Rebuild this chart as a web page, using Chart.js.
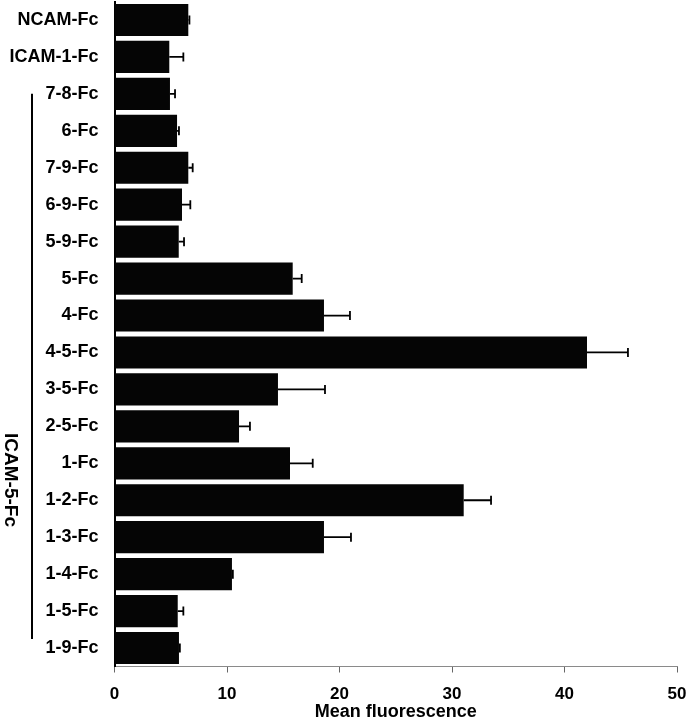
<!DOCTYPE html>
<html>
<head>
<meta charset="utf-8">
<script src="https://cdn.jsdelivr.net/npm/chart.js@4"></script>
<style>
  html, body { margin: 0; padding: 0; background: #fff; }
</style>
</head>
<body>
<canvas id="chart" width="688" height="719"></canvas>
<script>
// Fc constructs, top to bottom
const constructs = [
  'NCAM-Fc', 'ICAM-1-Fc', '7-8-Fc', '6-Fc', '7-9-Fc', '6-9-Fc', '5-9-Fc', '5-Fc', '4-Fc',
  '4-5-Fc', '3-5-Fc', '2-5-Fc', '1-Fc', '1-2-Fc', '1-3-Fc', '1-4-Fc', '1-5-Fc', '1-9-Fc'
]
const meanFluorescence = [
  6.56, 4.87, 4.93, 5.56, 6.56, 6.0, 5.71, 15.84, 18.62,
  42.0, 14.53, 11.07, 15.6, 31.04, 18.62, 10.44, 5.62, 5.73
]
// upper error (one-sided)
const errors = [
  0.1, 1.25, 0.45, 0.17, 0.39, 0.74, 0.47, 0.8, 2.31,
  3.64, 4.18, 0.97, 2.02, 2.43, 2.4, 0.08, 0.5, 0.08
]
const xTicks = [0, 10, 20, 30, 40, 50]
const groupLabel = 'ICAM-5-Fc'
const groupFirst = '7-8-Fc'
const groupLast = '1-9-Fc'

const FONT = '"Liberation Sans", Arial, Helvetica, sans-serif'

// error bars drawn against the x scale
const errorBars = {
  id: 'errorBars',
  afterDatasetsDraw(chart) {
    const { ctx } = chart
    const x = chart.scales.x
    const meta = chart.getDatasetMeta(0)
    ctx.save()
    ctx.strokeStyle = '#000'
    ctx.lineWidth = 1.8
    meta.data.forEach((bar, i) => {
      const err = errors[i]
      if (!err) return
      const x0 = x.getPixelForValue(meanFluorescence[i])
      const x1 = x.getPixelForValue(meanFluorescence[i] + err)
      ctx.beginPath()
      ctx.moveTo(x0, bar.y)
      ctx.lineTo(x1, bar.y)
      ctx.moveTo(x1, bar.y - 4.5)
      ctx.lineTo(x1, bar.y + 4.5)
      ctx.stroke()
    })
    ctx.restore()
  }
}

// bracket + rotated group label on the left
const groupBracket = {
  id: 'groupBracket',
  afterDraw(chart) {
    const { ctx } = chart
    const y = chart.scales.y
    const top = y.getPixelForValue(constructs.indexOf(groupFirst))
    const bottom = y.getPixelForValue(constructs.indexOf(groupLast)) - 9
    ctx.save()
    ctx.strokeStyle = '#000'
    ctx.lineWidth = 2
    ctx.beginPath()
    ctx.moveTo(32, top)
    ctx.lineTo(32, bottom)
    ctx.stroke()
    ctx.translate(10, 480)
    ctx.rotate(Math.PI / 2)
    ctx.fillStyle = '#000'
    ctx.font = 'bold 19px ' + FONT
    ctx.textAlign = 'center'
    ctx.textBaseline = 'middle'
    ctx.fillText(groupLabel, 0, 0)
    ctx.restore()
  }
}

new Chart(document.getElementById('chart'), {
  type: 'bar',
  data: {
    labels: constructs,
    datasets: [{
      data: meanFluorescence,
      backgroundColor: '#050505',
      borderWidth: 0,
      barPercentage: 0.87,
      categoryPercentage: 1
    }]
  },
  options: {
    indexAxis: 'y',
    responsive: false,
    animation: false,
    layout: { padding: { top: 1.5, right: 11, bottom: 0, left: 0 } },
    plugins: {
      legend: { display: false },
      tooltip: { enabled: false }
    },
    scales: {
      x: {
        min: 0,
        max: 50,
        afterBuildTicks: (scale) => { scale.ticks = xTicks.map(v => ({ value: v })) },
        afterFit: (scale) => {
          scale.height = 52.5
          scale.paddingLeft = 0
          scale.paddingRight = 0
        },
        border: { display: true, color: '#8a8a8a', width: 1 },
        grid: { drawOnChartArea: false, drawTicks: true, tickLength: 6, color: '#666' },
        ticks: {
          color: '#000',
          padding: 12,
          maxRotation: 0,
          font: { family: FONT, size: 17, weight: 'bold' }
        },
        title: {
          display: true,
          text: 'Mean fluorescence',
          color: '#000',
          padding: { top: 0, bottom: -2 },
          font: { family: FONT, size: 18, weight: 'bold', lineHeight: 1 }
        }
      },
      y: {
        afterFit: (scale) => {
          scale.width = 114.5
          scale.paddingTop = 0
          scale.paddingBottom = 0
        },
        border: { display: true, color: '#000', width: 2 },
        grid: { drawOnChartArea: false, drawTicks: false },
        ticks: {
          color: '#000',
          padding: 16,
          autoSkip: false,
          font: { family: FONT, size: 18, weight: 'bold' }
        }
      }
    }
  },
  plugins: [errorBars, groupBracket]
})
</script>
</body>
</html>
